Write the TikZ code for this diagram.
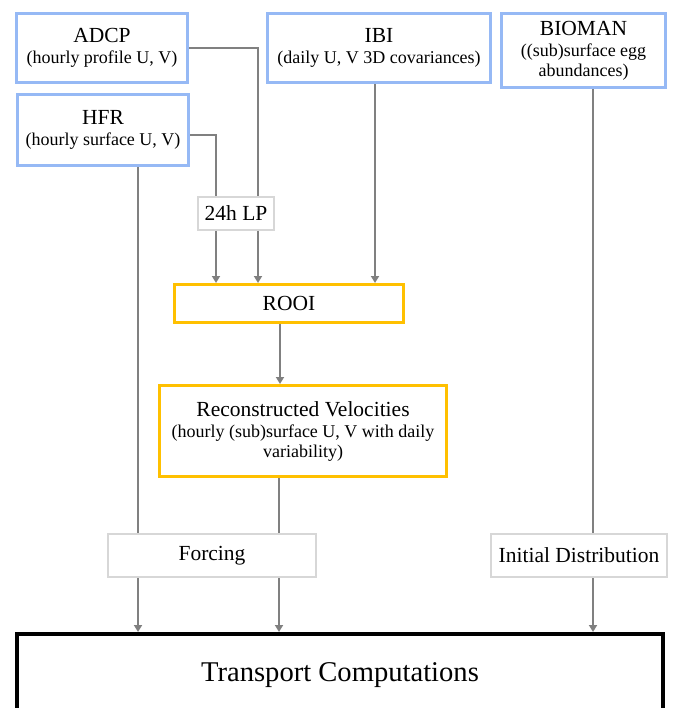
\documentclass[tikz,border=0pt]{standalone}
\usepackage{fontspec}
\setmainfont{Liberation Serif}
\usetikzlibrary{arrows.meta,positioning}
\definecolor{srcblue}{RGB}{150,185,245}
\definecolor{rooiorange}{RGB}{255,192,0}
\definecolor{boxgray}{RGB}{215,215,215}
\definecolor{linegray}{RGB}{128,128,128}
\newcommand{\subtxt}{\fontsize{18}{19}\selectfont}
\tikzset{
  datasrc/.style={
      rectangle,
      draw=srcblue,
      line width=3pt,
      align=center,
      inner sep=1pt,
      font=\fontsize{21.5}{20}\selectfont
  },
  stage/.style={
      datasrc,
      draw=rooiorange
  },
  passbox/.style={
      rectangle,
      draw=boxgray,
      line width=2pt,
      fill=white,
      inner sep=1pt,
      font=\fontsize{21.5}{22}\selectfont
  },
  result/.style={
      rectangle,
      draw=black,
      line width=4pt,
      font=\fontsize{28.6}{30}\selectfont
  },
  flow/.style={
      draw=linegray,
      line width=2.4pt
  },
  feed/.style={
      flow,
      -{Triangle[length=7pt,width=8pt]}
  }
}
\begin{document}
\begin{tikzpicture}[x=1pt,y=-1pt]
    \useasboundingbox (0,0) rectangle (674,708);
    \node[datasrc,minimum width=171pt,minimum height=69pt] (adcp) at (102,48)
      {ADCP\\[1pt]\subtxt (hourly profile U, V)};
    \node[datasrc,minimum width=223pt,minimum height=69pt] (ibi) at (379,48)
      {IBI\\[1pt]\subtxt (daily U, V 3D covariances)};
    \node[datasrc,minimum width=164pt,minimum height=74pt] (bioman) at (583.5,50.5)
      {BIOMAN\\[1pt]\subtxt ((sub)surface egg\\\subtxt abundances)};
    \node[datasrc,minimum width=171pt,minimum height=71pt] (hfr) at (103,130)
      {HFR\\[1pt]\subtxt (hourly surface U, V)};
    \node[passbox,minimum width=76pt,minimum height=33pt] (lp) at (236,213.5) {24h LP};
    \node[stage,minimum width=229pt,minimum height=38pt] (rooi) at (289,303.5) {ROOI};
    \node[stage,minimum width=287pt,minimum height=91pt] (recon) at (303,431)
      {Reconstructed Velocities\\[1pt]\subtxt (hourly (sub)surface U, V with daily\\\subtxt variability)};
    \node[passbox,minimum width=208pt,minimum height=43pt] (forcing) at (212,555.5) {Forcing};
    \node[passbox,minimum width=176pt,minimum height=43pt] (init) at (579,555.5) {Initial Distribution};
    \node[result,minimum width=646pt,minimum height=82pt] (transport) at (340,675) {Transport Computations};

    \draw[flow] (adcp.east) -| ([xshift=22pt]lp.north);
    \draw[flow] ([yshift=-5pt]hfr.east) -| ([xshift=-20pt]lp.north);
    \draw[feed] ([xshift=-20pt]lp.south) -- ([xshift=-20pt]lp.south |- rooi.north);
    \draw[feed] ([xshift=22pt]lp.south) -- ([xshift=22pt]lp.south |- rooi.north);
    \draw[feed] ([xshift=-4pt]ibi.south) -- ([xshift=-4pt]ibi.south |- rooi.north);
    \draw[feed] ([xshift=-9pt]rooi.south) -- ([xshift=-9pt]rooi.south |- recon.north);
    \draw[flow] ([xshift=35pt]hfr.south) -- ([xshift=35pt]hfr.south |- forcing.north);
    \draw[flow] ([xshift=-24pt]recon.south) -- ([xshift=-24pt]recon.south |- forcing.north);
    \draw[flow] ([xshift=9.5pt]bioman.south) -- ([xshift=9.5pt]bioman.south |- init.north);
    \draw[feed] ([xshift=-74pt]forcing.south) -- ([xshift=-74pt]forcing.south |- transport.north);
    \draw[feed] ([xshift=67pt]forcing.south) -- ([xshift=67pt]forcing.south |- transport.north);
    \draw[feed] ([xshift=14pt]init.south) -- ([xshift=14pt]init.south |- transport.north);
\end{tikzpicture}
\end{document}
